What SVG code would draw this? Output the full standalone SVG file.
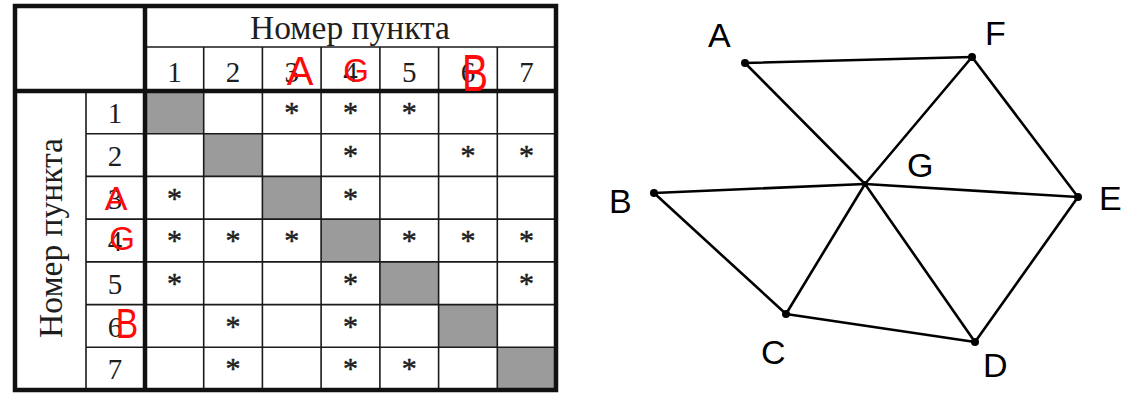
<svg xmlns="http://www.w3.org/2000/svg" width="1146" height="400" viewBox="0 0 1146 400">
<style>
.thin{stroke:#1a1a1a;stroke-width:1.6;fill:none}
.thick{stroke:#111;stroke-width:4.5;fill:none}
.grey{fill:#9b9b9b}
.tt{font-family:"Liberation Serif","Times New Roman",serif;fill:#1e1e1e;text-anchor:middle}
.hd{font-size:33.5px}
.num{font-size:29px}
.ast{font-size:30px;stroke:#1e1e1e;stroke-width:0.5}
.red{font-family:"Liberation Sans",Arial,sans-serif;fill:#ff0a0a;text-anchor:middle}
.edge{stroke:#000;stroke-width:2.6;stroke-linecap:round}
.dot{fill:#000}
.lbl{font-family:"Liberation Sans",Arial,sans-serif;font-size:34px;fill:#000}
</style>
<rect width="1146" height="400" fill="#fff"/>
<g id="table">
  <g id="diagonal">
    <rect class="grey" x="145" y="91" width="58.7" height="42.7"/>
    <rect class="grey" x="203.7" y="133.7" width="58.7" height="42.7"/>
    <rect class="grey" x="262.4" y="176.4" width="58.7" height="42.7"/>
    <rect class="grey" x="321.1" y="219.1" width="58.7" height="42.7"/>
    <rect class="grey" x="379.9" y="261.9" width="58.7" height="42.7"/>
    <rect class="grey" x="438.6" y="304.6" width="58.7" height="42.7"/>
    <rect class="grey" x="497.3" y="347.3" width="58.7" height="42.7"/>
  </g>
  <g id="gridlines">
    <line class="thin" x1="145" y1="47" x2="556" y2="47"/>
    <line class="thin" x1="86" y1="133.7" x2="556" y2="133.7"/>
    <line class="thin" x1="86" y1="176.4" x2="556" y2="176.4"/>
    <line class="thin" x1="86" y1="219.1" x2="556" y2="219.1"/>
    <line class="thin" x1="86" y1="261.9" x2="556" y2="261.9"/>
    <line class="thin" x1="86" y1="304.6" x2="556" y2="304.6"/>
    <line class="thin" x1="86" y1="347.3" x2="556" y2="347.3"/>
    <line class="thin" x1="86" y1="91" x2="86" y2="390"/>
    <line class="thin" x1="203.7" y1="47" x2="203.7" y2="390"/>
    <line class="thin" x1="262.4" y1="47" x2="262.4" y2="390"/>
    <line class="thin" x1="321.1" y1="47" x2="321.1" y2="390"/>
    <line class="thin" x1="379.9" y1="47" x2="379.9" y2="390"/>
    <line class="thin" x1="438.6" y1="47" x2="438.6" y2="390"/>
    <line class="thin" x1="497.3" y1="47" x2="497.3" y2="390"/>
    <line class="thick" x1="145" y1="6" x2="145" y2="390"/>
    <line class="thick" x1="15" y1="91" x2="556" y2="91"/>
    <rect class="thick" x="15" y="6" width="541" height="384"/>
  </g>
  <g id="headers">
    <text class="tt hd" x="350" y="39">Номер пункта</text>
    <text class="tt hd" transform="translate(62,238) rotate(-90)" x="0" y="0">Номер пункта</text>
    <text class="tt num" x="174.4" y="82">1</text>
    <text class="tt num" x="233.1" y="82">2</text>
    <text class="tt num" x="291.8" y="82">3</text>
    <text class="tt num" x="350.5" y="82">4</text>
    <text class="tt num" x="409.2" y="82">5</text>
    <text class="tt num" x="467.9" y="82">6</text>
    <text class="tt num" x="526.6" y="82">7</text>
    <text class="tt num" x="115" y="123">1</text>
    <text class="tt num" x="115" y="166">2</text>
    <text class="tt num" x="115" y="209">3</text>
    <text class="tt num" x="115" y="251">4</text>
    <text class="tt num" x="115" y="294">5</text>
    <text class="tt num" x="115" y="337">6</text>
    <text class="tt num" x="115" y="379">7</text>
  </g>
  <g id="stars">
    <text class="tt ast" x="291.8" y="122">*</text>
    <text class="tt ast" x="350.5" y="122">*</text>
    <text class="tt ast" x="409.2" y="122">*</text>
    <text class="tt ast" x="350.5" y="165">*</text>
    <text class="tt ast" x="467.9" y="165">*</text>
    <text class="tt ast" x="526.6" y="165">*</text>
    <text class="tt ast" x="174.4" y="208">*</text>
    <text class="tt ast" x="350.5" y="208">*</text>
    <text class="tt ast" x="174.4" y="250">*</text>
    <text class="tt ast" x="233.1" y="250">*</text>
    <text class="tt ast" x="291.8" y="250">*</text>
    <text class="tt ast" x="409.2" y="250">*</text>
    <text class="tt ast" x="467.9" y="250">*</text>
    <text class="tt ast" x="526.6" y="250">*</text>
    <text class="tt ast" x="174.4" y="293">*</text>
    <text class="tt ast" x="350.5" y="293">*</text>
    <text class="tt ast" x="526.6" y="293">*</text>
    <text class="tt ast" x="233.1" y="336">*</text>
    <text class="tt ast" x="350.5" y="336">*</text>
    <text class="tt ast" x="233.1" y="378">*</text>
    <text class="tt ast" x="350.5" y="378">*</text>
    <text class="tt ast" x="409.2" y="378">*</text>
  </g>
  <g id="annotations">
    <text class="red" x="300" y="85" font-size="40">A</text>
    <text class="red" x="356" y="82" font-size="33">G</text>
    <text class="red" x="475" y="91" font-size="52" transform="translate(475,91) scale(0.75,1) translate(-475,-91)">B</text>
    <text class="red" x="116" y="210" font-size="34">A</text>
    <text class="red" x="122" y="250" font-size="33">G</text>
    <text class="red" x="127" y="338" font-size="42" transform="translate(127,338) scale(0.8,1) translate(-127,-338)">B</text>
  </g>
</g>
<g id="connectors">
  <line class="edge" x1="745" y1="63" x2="972" y2="57"/>
  <line class="edge" x1="745" y1="63" x2="865" y2="184"/>
  <line class="edge" x1="972" y1="57" x2="865" y2="184"/>
  <line class="edge" x1="972" y1="57" x2="1078" y2="197"/>
  <line class="edge" x1="654" y1="193" x2="865" y2="184"/>
  <line class="edge" x1="865" y1="184" x2="1078" y2="197"/>
  <line class="edge" x1="654" y1="193" x2="786" y2="314"/>
  <line class="edge" x1="865" y1="184" x2="786" y2="314"/>
  <line class="edge" x1="865" y1="184" x2="975" y2="342"/>
  <line class="edge" x1="786" y1="314" x2="975" y2="342"/>
  <line class="edge" x1="1078" y1="197" x2="975" y2="342"/>
</g>
<g id="node-A"><circle class="dot" cx="745" cy="63" r="4"/><text class="lbl" x="708" y="47">A</text></g>
<g id="node-F"><circle class="dot" cx="972" cy="57" r="4"/><text class="lbl" x="985" y="45">F</text></g>
<g id="node-G"><circle class="dot" cx="865" cy="184" r="3"/><text class="lbl" x="907" y="177">G</text></g>
<g id="node-B"><circle class="dot" cx="654" cy="193" r="4"/><text class="lbl" x="609" y="213">B</text></g>
<g id="node-E"><circle class="dot" cx="1078" cy="197" r="4"/><text class="lbl" x="1099" y="210">E</text></g>
<g id="node-C"><circle class="dot" cx="786" cy="314" r="4"/><text class="lbl" x="761" y="364">C</text></g>
<g id="node-D"><circle class="dot" cx="975" cy="342" r="4"/><text class="lbl" x="983" y="377">D</text></g>
</svg>
